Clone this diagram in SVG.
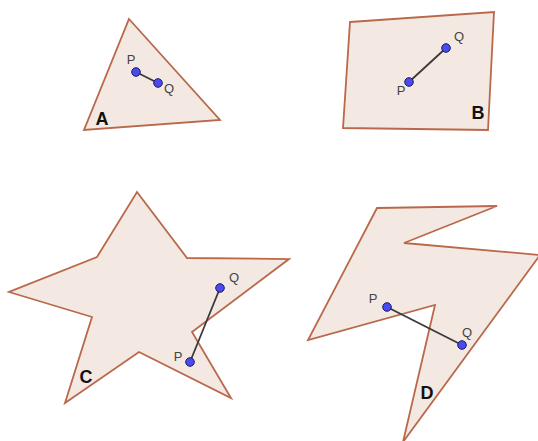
<svg xmlns="http://www.w3.org/2000/svg" width="538" height="441" viewBox="0 0 538 441">
<style>
.shape{fill:#f4e8e2;stroke:#b9694a;stroke-width:1.8;stroke-linejoin:miter}
.seg{stroke:#3a3a3a;stroke-width:1.8}
.pt{fill:#4a4aee;stroke:#1a1a66;stroke-width:1}
.pl{font-family:"Liberation Sans",Arial,sans-serif;font-size:13px;fill:#444;text-anchor:middle}
.nm{font-family:"Liberation Sans",Arial,sans-serif;font-size:18px;font-weight:bold;fill:#111;text-anchor:middle}
</style>
<rect width="538" height="441" fill="#ffffff"/>
<g id="A">
<polygon class="shape" points="129,19 220,120 84,130"/>
<line class="seg" x1="136" y1="72" x2="158" y2="83"/>
<circle class="pt" cx="136" cy="72" r="4.3"/>
<circle class="pt" cx="158" cy="83" r="4.3"/>
<text class="pl" x="131" y="64">P</text>
<text class="pl" x="169" y="93">Q</text>
<text class="nm" x="102" y="125">A</text>
</g>
<g id="B">
<polygon class="shape" points="350,22 494,12 488,130 343,128"/>
<line class="seg" x1="409" y1="82" x2="446" y2="48"/>
<circle class="pt" cx="409" cy="82" r="4.3"/>
<circle class="pt" cx="446" cy="48" r="4.3"/>
<text class="pl" x="401" y="95">P</text>
<text class="pl" x="459" y="41">Q</text>
<text class="nm" x="478" y="119">B</text>
</g>
<g id="C">
<polygon class="shape" points="137,192 187,258 289,259 192,332 231,398 139,352 65,403 92,317 9,292 97,257"/>
<line class="seg" x1="190" y1="362" x2="220" y2="288"/>
<circle class="pt" cx="190" cy="362" r="4.3"/>
<circle class="pt" cx="220" cy="288" r="4.3"/>
<text class="pl" x="178" y="361">P</text>
<text class="pl" x="234" y="282">Q</text>
<text class="nm" x="86" y="383">C</text>
</g>
<g id="D">
<polygon class="shape" points="377,208 497,206 404,243 540,255 403,442 435,305 308,340"/>
<line class="seg" x1="387" y1="307" x2="462" y2="345"/>
<circle class="pt" cx="387" cy="307" r="4.3"/>
<circle class="pt" cx="462" cy="345" r="4.3"/>
<text class="pl" x="373" y="303">P</text>
<text class="pl" x="467" y="337">Q</text>
<text class="nm" x="427" y="399">D</text>
</g>
</svg>
